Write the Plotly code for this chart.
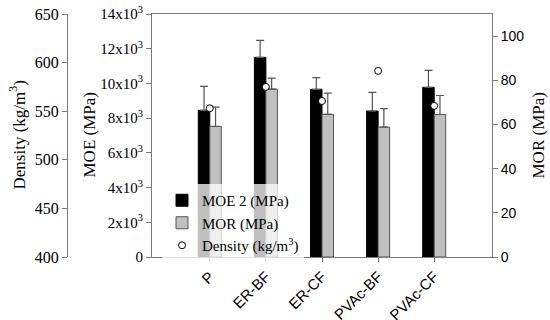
import plotly.graph_objects as go

categories = ["P", "ER-BF", "ER-CF", "PVAc-BF", "PVAc-CF"]
moe = [8450, 11500, 9660, 8410, 9775]
moe_err = [1380, 980, 670, 1080, 980]
mor = [59.1, 76.0, 64.6, 58.8, 64.5]
mor_err = [8.7, 5.0, 9.6, 8.4, 8.6]
density = [553, 575, 560.5, 591.5, 555.5]
moe_ticks = [0, 2000, 4000, 6000, 8000, 10000, 12000, 14000]
moe_ticktext = ["0"] + [f"{v // 1000}x10<sup>3</sup>" for v in moe_ticks[1:]]

xpos = list(range(len(categories)))
W, H = 550, 320
L, R, T, B = 67, 58, 14, 63
pw = W - L - R
ph = H - T - B
axc = "#7a7a7a"
serif = "Liberation Serif, Times New Roman, serif"
sans = "Liberation Sans, Arial, sans-serif"


def wx(p):  # window px -> paper x
    return (p - L) / pw


def wy(p):  # window px -> paper y
    return 1 - (p - T) / ph


fig = go.Figure()
fig.add_trace(go.Bar(
    x=xpos, y=moe, name="MOE 2 (MPa)", width=0.205, offset=-0.205,
    marker=dict(color="black", line=dict(color="black", width=1)),
    error_y=dict(type="data", array=moe_err, arrayminus=[0] * 5, symmetric=False,
                 color="#555", thickness=1.2, width=4),
    xaxis="x", yaxis="y"))
fig.add_trace(go.Bar(
    x=xpos, y=mor, name="MOR (MPa)", width=0.205, offset=0,
    marker=dict(color="#c0c0c0", line=dict(color="#555", width=1)),
    error_y=dict(type="data", array=mor_err, arrayminus=[0] * 5, symmetric=False,
                 color="#555", thickness=1.2, width=4),
    xaxis="x", yaxis="y2"))
fig.add_trace(go.Scatter(
    x=xpos, y=density, name="Density (kg/m<sup>3</sup>)", mode="markers",
    marker=dict(symbol="circle", size=7, color="white", line=dict(color="black", width=1)),
    xaxis="x", yaxis="y3"))

fig.update_layout(
    template="none",
    width=W, height=H, margin=dict(l=L, r=R, t=T, b=B, autoexpand=False),
    plot_bgcolor="white", paper_bgcolor="white",
    showlegend=True, barmode="overlay",
    xaxis=dict(domain=[wx(152), 1], range=[-1.03, 5.03], tickvals=xpos, ticktext=categories,
               tickangle=-45, tickfont=dict(family=sans, size=15, color="black"),
               showline=True, linecolor=axc, mirror=True, ticks="outside", ticklen=4,
               tickcolor=axc, showgrid=False, zeroline=False, automargin=False),
    yaxis=dict(range=[0, 14000], tickvals=moe_ticks, ticktext=moe_ticktext,
               tickfont=dict(family=serif, size=15, color="black"),
               showline=True, linecolor=axc, ticks="outside", ticklen=5, tickcolor=axc,
               showgrid=False, zeroline=False, automargin=False),
    yaxis2=dict(range=[0, 110], tickvals=[0, 20, 40, 60, 80, 100], overlaying="y",
                side="right", anchor="x",
                tickfont=dict(family=sans, size=14, color="black"),
                showline=True, linecolor=axc, ticks="outside", ticklen=5, tickcolor=axc,
                showgrid=False, zeroline=False, automargin=False),
    yaxis3=dict(range=[400, 650], tickvals=[400, 450, 500, 550, 600, 650], overlaying="y",
                side="left", anchor="free", position=0,
                tickfont=dict(family=serif, size=16, color="black"),
                showline=True, linecolor=axc, ticks="outside", ticklen=5, tickcolor=axc,
                showgrid=False, zeroline=False, automargin=False),
    legend=dict(x=wx(162), y=wy(184), xanchor="left", yanchor="top",
                bgcolor="rgba(255,255,255,0.75)", font=dict(family=serif, size=15, color="black"),
                tracegroupgap=0, itemwidth=30),
)

for txt, xp in [("Density (kg/m<sup>3</sup>)", 17), ("MOE (MPa)", 89), ("MOR (MPa)", 538)]:
    fig.add_annotation(text=txt, xref="paper", yref="paper", x=wx(xp), y=wy(135.5),
                       xanchor="center", yanchor="middle", textangle=-90, showarrow=False,
                       font=dict(family=serif, size=17, color="black"))

fig.write_html("out.html", config={"displayModeBar": False},
               post_script="document.body.style.margin='0';")
